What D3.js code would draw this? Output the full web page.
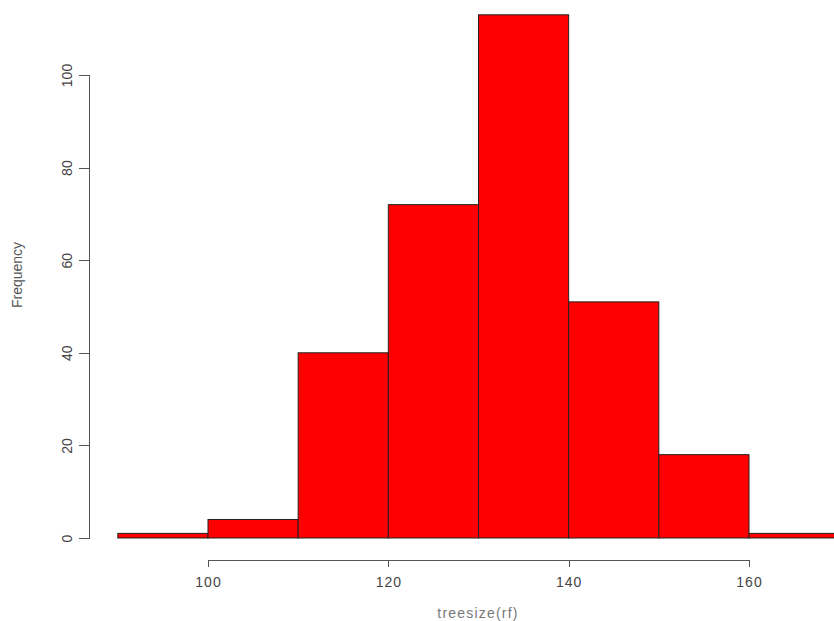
<!DOCTYPE html>
<html>
<head>
<meta charset="utf-8">
<style>
  body { margin: 0; background: #fff; }
  svg { font-family: "Liberation Sans", Arial, sans-serif; }
  .axis path, .axis line { fill: none; stroke: #555; shape-rendering: crispEdges; }
  .axis text { fill: #444; font-size: 14px; }
</style>
<script src="https://cdn.jsdelivr.net/npm/d3@7"></script>
</head>
<body>
<div id="chart"></div>
<script>
// histogram of treesize(rf), bins of width 10
var binStarts = [90, 100, 110, 120, 130, 140, 150, 160];
var binWidth = 10;
var counts = [1, 4, 40, 72, 113, 51, 18, 1];
var xTicks = [100, 120, 140, 160];
var yTicks = [0, 20, 40, 60, 80, 100];

var width = 834, height = 621;

var x = d3.scaleLinear().domain([100, 160]).range([208, 749]);
var y = d3.scaleLinear().domain([0, 100]).range([538, 75]);

var svg = d3.select("#chart").append("svg")
    .attr("width", width)
    .attr("height", height);

svg.selectAll("rect.bar")
    .data(counts)
  .enter().append("rect")
    .attr("class", "bar")
    .attr("x", function(d, i) { return x(binStarts[i]); })
    .attr("width", function(d, i) { return x(binStarts[i] + binWidth) - x(binStarts[i]); })
    .attr("y", function(d) { return y(d); })
    .attr("height", function(d) { return y(0) - y(d); })
    .attr("fill", "#ff0000")
    .attr("stroke", "#222")
    .attr("stroke-width", 1);

// x axis, R style: line only spans the tick range
var xAxis = svg.append("g")
    .attr("class", "axis")
    .attr("transform", "translate(0,560)")
    .call(d3.axisBottom(x).tickValues(xTicks).tickSize(7).tickSizeOuter(0).tickPadding(10));
xAxis.select(".domain").attr("d", "M" + x(100) + ",0.5H" + x(160));
xAxis.selectAll(".tick text").style("letter-spacing", "1px").attr("fill", "#555");

var yAxis = svg.append("g")
    .attr("class", "axis")
    .attr("transform", "translate(90,0)")
    .call(d3.axisLeft(y).tickValues(yTicks).tickSize(11).tickSizeOuter(0).tickPadding(0));
yAxis.select(".domain").attr("d", "M-0.5," + y(0) + "V" + y(100));
yAxis.selectAll(".tick text")
    .attr("x", 0).attr("dy", 0)
    .attr("text-anchor", "middle")
    .attr("transform", "translate(-23,0) rotate(-90)")
    .attr("dominant-baseline", "central")
    .attr("fill", "#555");

svg.append("text")
    .attr("x", 478).attr("y", 618)
    .attr("text-anchor", "middle")
    .attr("fill", "#777")
    .style("font-size", "14px")
    .style("letter-spacing", "1.2px")
    .text("treesize(rf)");

svg.append("text")
    .attr("transform", "translate(22,275) rotate(-90)")
    .attr("text-anchor", "middle")
    .attr("fill", "#555")
    .style("font-size", "14px")
    .text("Frequency");
</script>
</body>
</html>
